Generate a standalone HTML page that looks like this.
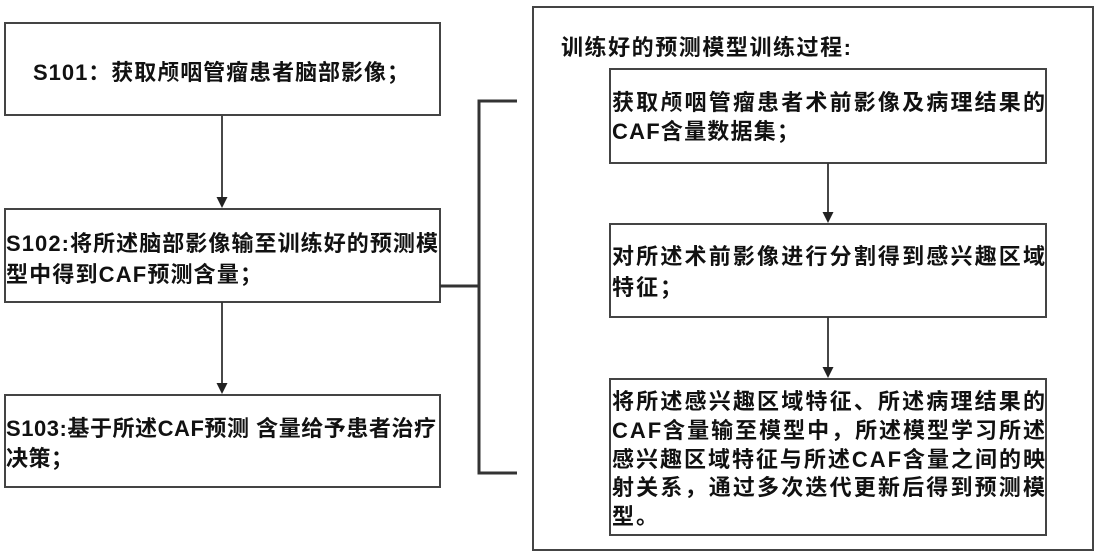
<!DOCTYPE html>
<html>
<head>
<meta charset="utf-8">
<style>
  html, body { margin:0; padding:0; background:#fff; }
  svg { display:block; }
  text { font-family: "Liberation Sans", "Noto Sans CJK SC", "WenQuanYi Zen Hei", sans-serif; font-size:22px; font-weight:bold; fill:#111; }
</style>
</head>
<body>
<svg width="1100" height="559" viewBox="0 0 1100 559" xmlns="http://www.w3.org/2000/svg">
  <rect x="0" y="0" width="1100" height="559" fill="#fff"/>

  <!-- Left boxes -->
  <g fill="none" stroke="#444" stroke-width="2">
    <rect x="5" y="23" width="435" height="92"/>
    <rect x="5" y="209" width="435" height="93"/>
    <rect x="5" y="395" width="435" height="92"/>
  </g>

  <!-- Left arrows -->
  <g stroke="#333" stroke-width="1.8">
    <line x1="222" y1="116" x2="222" y2="199"/>
    <line x1="222" y1="302" x2="222" y2="385"/>
  </g>
  <g fill="#222">
    <polygon points="216.5,197 227.5,197 222,208"/>
    <polygon points="216.5,383 227.5,383 222,394"/>
  </g>

  <!-- Bracket connector -->
  <g fill="none" stroke="#333" stroke-width="3">
    <polyline points="517,101 479,101 479,473 517,473"/>
    <line x1="440" y1="286" x2="479" y2="286"/>
  </g>

  <!-- Right big box -->
  <rect x="533" y="7" width="560" height="543" fill="none" stroke="#444" stroke-width="2"/>
  <g fill="none" stroke="#444" stroke-width="2">
    <rect x="610" y="69" width="436" height="94"/>
    <rect x="610" y="224" width="436" height="93"/>
    <rect x="610" y="379" width="436" height="156"/>
  </g>

  <!-- Right arrows -->
  <g stroke="#333" stroke-width="1.8">
    <line x1="828" y1="163" x2="828" y2="213"/>
    <line x1="828" y1="317" x2="828" y2="368"/>
  </g>
  <g fill="#222">
    <polygon points="822.5,212 833.5,212 828,223"/>
    <polygon points="822.5,367 833.5,367 828,378"/>
  </g>

  <!-- Left texts -->
  <text x="33" y="80" textLength="376" lengthAdjust="spacing">S101：获取颅咽管瘤患者脑部影像；</text>

  <text x="6" y="251" textLength="432" lengthAdjust="spacing">S102:将所述脑部影像输至训练好的预测模</text>
  <text x="6" y="282" textLength="256" lengthAdjust="spacing">型中得到CAF预测含量；</text>

  <text x="6" y="436" textLength="430" lengthAdjust="spacing">S103:基于所述CAF预测 含量给予患者治疗</text>
  <text x="6" y="466" letter-spacing="0.5">决策；</text>

  <!-- Right texts -->
  <text x="561" y="55" textLength="290" lengthAdjust="spacing">训练好的预测模型训练过程:</text>

  <text x="612" y="110" textLength="433" lengthAdjust="spacing">获取颅咽管瘤患者术前影像及病理结果的</text>
  <text x="612" y="139" textLength="187" lengthAdjust="spacing">CAF含量数据集；</text>

  <text x="612" y="264" textLength="433" lengthAdjust="spacing">对所述术前影像进行分割得到感兴趣区域</text>
  <text x="612" y="295" letter-spacing="2">特征；</text>

  <text x="612" y="409" textLength="433" lengthAdjust="spacing">将所述感兴趣区域特征、所述病理结果的</text>
  <text x="612" y="438" textLength="433" lengthAdjust="spacing">CAF含量输至模型中，所述模型学习所述</text>
  <text x="612" y="467" textLength="433" lengthAdjust="spacing">感兴趣区域特征与所述CAF含量之间的映</text>
  <text x="612" y="495" textLength="433" lengthAdjust="spacing">射关系，通过多次迭代更新后得到预测模</text>
  <text x="612" y="524" letter-spacing="2">型。</text>
</svg>
</body>
</html>
